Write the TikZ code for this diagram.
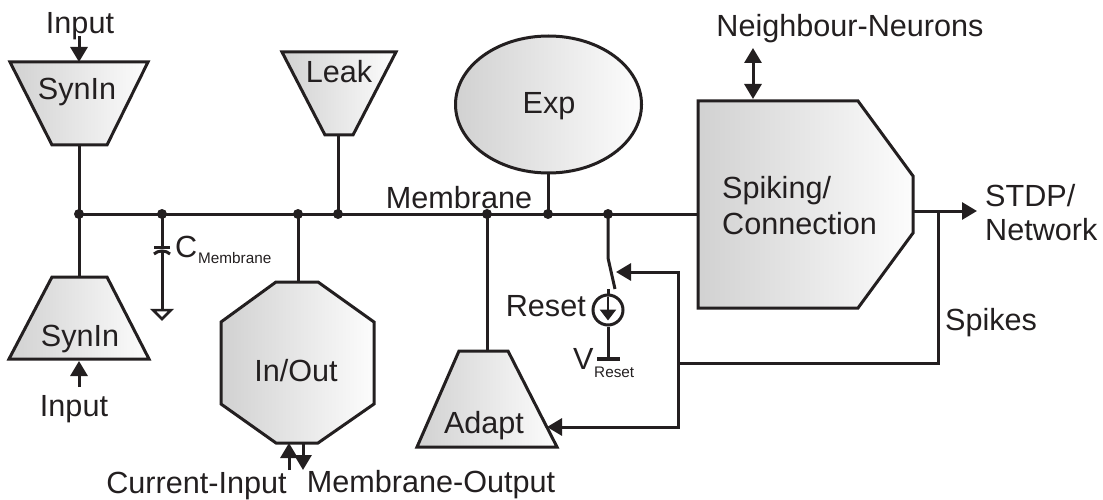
\documentclass[tikz,border=0pt]{standalone}
\usepackage{fontspec}
\setmainfont{Liberation Sans}
\usetikzlibrary{arrows.meta}
\tikzset{
  x=1pt,y=-1pt,
  block/.style={draw=ink,line width=3pt,line join=miter,left color=black!18,right color=black!1},
  wire/.style={draw=ink,line width=3pt},
  arrowwire/.style={wire,-{Triangle[length=15pt,width=17pt]}},
  dot/.style={circle,fill=ink,inner sep=0pt,minimum size=10pt},
  lab/.style={inner sep=0pt,anchor=base,text=ink,font=\fontsize{30.6}{33}\selectfont},
  sublab/.style={inner sep=0pt,anchor=base west,text=ink,font=\fontsize{15.3}{18}\selectfont},
}
\definecolor{ink}{HTML}{231F20}
\begin{document}
\begin{tikzpicture}
\useasboundingbox (0,0) rectangle (1103,500);
% blocks
\path[block] (10,62)--(148,62)--(107,145)--(52,145)--cycle;
\path[block] (52,277)--(107,277)--(149,359)--(9,359)--cycle;
\path[block] (282,52)--(396,52)--(353,135)--(325,135)--cycle;
\path[block] (276,282)--(318,282)--(374,322)--(374,404)--(318,443)--(276,443)--(221,404)--(221,322)--cycle;
\path[block] (548.5,104.5) ellipse [x radius=93,y radius=68.5];
\path[block] (698,101)--(858,101)--(913,176)--(913,233)--(858,308)--(698,308)--cycle;
\path[block] (459,351)--(508,351)--(557,447)--(417,447)--cycle;
% coordinates
\coordinate (busL) at (79,214); \coordinate (busC) at (162,214);
\coordinate (busIO) at (298,214); \coordinate (busLk) at (338,214);
\coordinate (busAd) at (487,214); \coordinate (busEx) at (548,214);
\coordinate (busRs) at (608,214); \coordinate (busSp) at (698,214);
\coordinate (s1b) at (79,145); \coordinate (s2t) at (79,277);
\coordinate (lkb) at (338,135); \coordinate (iot) at (298,282);
\coordinate (adt) at (487,351); \coordinate (exb) at (548,173);
\coordinate (capT) at (162,246); \coordinate (capB) at (162,251);
\coordinate (gnd) at (162,310);
\coordinate (swT) at (608,258); \coordinate (swB) at (615,289);
\coordinate (stub) at (608,289);
\coordinate (out0) at (913,211); \coordinate (out1) at (977,211);
\coordinate (spkT) at (938,211); \coordinate (spkB) at (938,363);
\coordinate (fbJ) at (678,363); \coordinate (fbT) at (678,272); \coordinate (fbB) at (678,427);
\coordinate (swTip) at (616,272); \coordinate (adTip) at (547,427);
\coordinate (in1a) at (79,36); \coordinate (in1b) at (79,62);
\coordinate (in2a) at (79,387); \coordinate (in2b) at (79,361);
\coordinate (cia) at (289,470); \coordinate (cib) at (289,443);
\coordinate (moa) at (303,443); \coordinate (mob) at (303,470);
\coordinate (nna) at (753,48); \coordinate (nnb) at (753,99);
% wires
\draw[wire] (busL) -- (busSp);
\draw[wire] (s1b) -- (busL) -- (s2t);
\draw[wire] (lkb) -- (busLk);
\draw[wire] (busIO) -- (iot);
\draw[wire] (busAd) -- (adt);
\draw[wire] (exb) -- (busEx);
\draw[wire] (busC) -- (capT);
\draw[wire] (capB) -- (gnd);
\draw[wire] (154,247) -- (170,247);
\draw[wire] (154,254) .. controls (158,250) and (166,250) .. (170,254);
\draw[draw=ink,line width=2.5pt,line join=miter] (153,310) -- (171,310) -- (162,319) -- cycle;
\draw[wire] (busRs) -- (swT) -- (swB);
\draw[wire] (stub) -- (608,296);
\node[circle,draw=ink,line width=3pt,minimum size=30pt,inner sep=0pt] (src) at (608,310) {};
\draw[draw=ink,line width=2.5pt,-{Triangle[length=11pt,width=16pt]}] (src.north) ++(0,3) -- ++(0,24);
\draw[wire] (src.south) -- (608,359);
\draw[draw=ink,line width=3.5pt] (597,359) -- (620,359);
\draw[arrowwire] (out0) -- (out1);
\draw[wire] (spkT) -- (spkB) -- (fbJ);
\draw[arrowwire] (fbJ) -- (fbT) -- (swTip);
\draw[arrowwire] (fbJ) -- (fbB) -- (adTip);
\draw[arrowwire] (in1a) -- (in1b);
\draw[arrowwire] (in2a) -- (in2b);
\draw[arrowwire] (cia) -- (cib);
\draw[arrowwire] (moa) -- (mob);
\draw[wire,{Triangle[length=15pt,width=17pt]}-{Triangle[length=15pt,width=17pt]}] (nna) -- (nnb);
% dots
\foreach \n in {busL,busC,busIO,busLk,busAd,busEx,busRs} \node[dot] at (\n) {};
% labels
\node[lab] (tIn1) at (80,34) {Input};
\node[lab] (tS1) at (77,100) {SynIn};
\node[lab] (tS2) at (80,346) {SynIn};
\node[lab] (tIn2) at (74,416) {Input};
\node[lab] (tLk) at (339,83) {Leak};
\node[lab] (tEx) at (549,114) {Exp};
\node[lab] (tIO) at (296,381) {In/Out};
\node[lab] (tMem) at (459,208) {Membrane};
\node[lab,anchor=base west] (tC) at (175,257) {C};
\node[sublab] (tCs) at (198,263) {Membrane};
\node[lab,anchor=base east] (tRs) at (586,316) {Reset};
\node[lab,anchor=base west] (tV) at (573,369) {V};
\node[sublab] (tVs) at (594,377) {Reset};
\node[lab] (tAd) at (484,433) {Adapt};
\node[lab] (tCI) at (196.5,493) {Current-Input};
\node[lab] (tMO) at (431,492) {Membrane-Output};
\node[lab] (tNN) at (850,37) {Neighbour-Neurons};
\node[lab,anchor=base west] (tSp1) at (722,198) {Spiking/};
\node[lab,anchor=base west] (tSp2) at (722,234) {Connection};
\node[lab,anchor=base west] (tST) at (985,206) {STDP/};
\node[lab,anchor=base west] (tNw) at (985,240) {Network};
\node[lab,anchor=base west] (tSk) at (945,330) {Spikes};
\end{tikzpicture}
\end{document}
